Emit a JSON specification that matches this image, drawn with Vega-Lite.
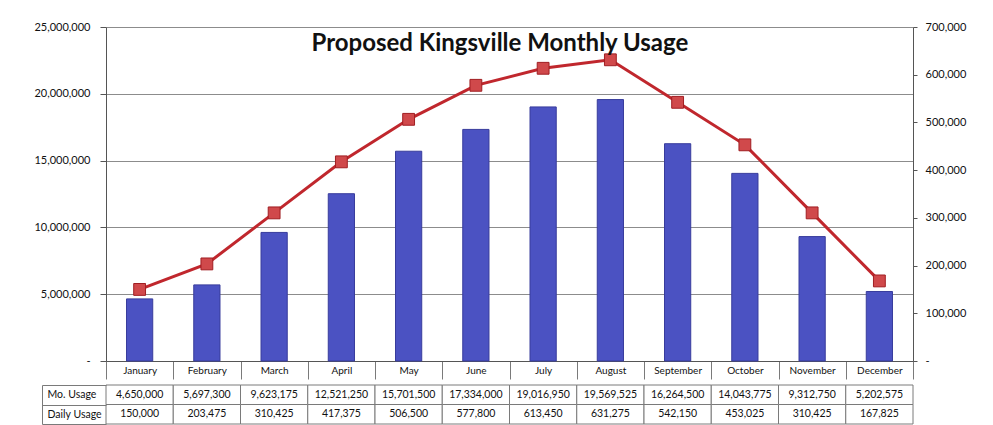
{
  "$schema": "https://vega.github.io/schema/vega-lite/v6.json",
  "padding": {"left": 33, "top": 21, "right": 5, "bottom": 5},
  "autosize": {"type": "pad"},
  "background": "white",
  "title": {"text": "Proposed Kingsville Monthly Usage", "font": "Lato", "fontSize": 24, "fontWeight": "bold", "color": "#111", "anchor": "middle", "frame": "bounds", "offset": -31, "dy": 4},
  "datasets": {
    "usage": [
      {"month": "January", "mo": 4650000, "daily": 150000},
      {"month": "February", "mo": 5697300, "daily": 203475},
      {"month": "March", "mo": 9623175, "daily": 310425},
      {"month": "April", "mo": 12521250, "daily": 417375},
      {"month": "May", "mo": 15701500, "daily": 506500},
      {"month": "June", "mo": 17334000, "daily": 577800},
      {"month": "July", "mo": 19016950, "daily": 613450},
      {"month": "August", "mo": 19569525, "daily": 631275},
      {"month": "September", "mo": 16264500, "daily": 542150},
      {"month": "October", "mo": 14043775, "daily": 453025},
      {"month": "November", "mo": 9312750, "daily": 310425},
      {"month": "December", "mo": 5202575, "daily": 167825}
    ]
  },
  "config": {
    "view": {"stroke": null},
    "font": "Lato",
    "axis": {"labelFont": "Lato", "labelColor": "#111", "domainColor": "#555", "tickColor": "#555", "labelFontSize": 11, "title": null}
  },
  "spacing": 0,
  "vconcat": [
    {
      "width": 807,
      "height": 334,
      "data": {"name": "usage"},
      "encoding": {
        "x": {
          "field": "month", "type": "ordinal",
          "sort": ["January","February","March","April","May","June","July","August","September","October","November","December"],
          "scale": {"paddingInner": 0, "paddingOuter": 0},
          "axis": {"orient": "bottom", "labelAngle": 0, "tickBand": "extent", "tickSize": 18, "tickColor": "#7a7a7a", "labelPadding": -9, "labelBaseline": "middle", "labelFontSize": 10, "grid": false}
        }
      },
      "layer": [
        {
          "mark": {"type": "bar", "width": {"band": 0.39}, "fill": "#4b52c2", "stroke": "#383c9c", "strokeWidth": 1},
          "encoding": {
            "y": {
              "field": "mo", "type": "quantitative",
              "scale": {"domain": [0, 25000000], "nice": false},
              "axis": {"orient": "left", "values": [0, 5000000, 10000000, 15000000, 20000000, 25000000], "labelExpr": "datum.value == 0 ? '-' : format(datum.value, ',')", "grid": true, "gridColor": "#8c8c8c", "tickSize": 6, "labelPadding": 10}
            }
          }
        },
        {
          "encoding": {
            "y": {
              "field": "daily", "type": "quantitative",
              "scale": {"domain": [0, 700000], "nice": false},
              "axis": {"orient": "right", "values": [0, 100000, 200000, 300000, 400000, 500000, 600000, 700000], "labelExpr": "datum.value == 0 ? '-' : format(datum.value, ',')", "grid": false, "tickSize": 4, "labelPadding": 8}
            }
          },
          "layer": [
            {"mark": {"type": "line", "color": "#c0272d", "strokeWidth": 3}},
            {"mark": {"type": "point", "shape": "square", "size": 140, "filled": true, "fill": "#d0494b", "stroke": "#a01e22", "strokeWidth": 1, "opacity": 1}}
          ]
        }
      ],
      "resolve": {"scale": {"y": "independent"}}
    },
    {
      "width": 807,
      "height": 39,
      "data": {"name": "usage"},
      "transform": [{"fold": ["mo", "daily"], "as": ["row", "value"]}],
      "encoding": {
        "x": {
          "field": "month", "type": "ordinal",
          "sort": ["January","February","March","April","May","June","July","August","September","October","November","December"],
          "scale": {"paddingInner": 0, "paddingOuter": 0},
          "axis": null
        },
        "y": {
          "field": "row", "type": "nominal", "sort": ["mo", "daily"],
          "scale": {"paddingInner": 0, "paddingOuter": 0},
          "axis": {"orient": "left", "offset": 64, "tickBand": "extent", "tickSize": -64, "tickColor": "#7a7a7a", "domainColor": "#7a7a7a", "labelAlign": "left", "labelPadding": 59, "labelFontSize": 10.5, "labelExpr": "datum.value == 'mo' ? 'Mo. Usage' : datum.value == 'daily' ? 'Daily Usage' : ''"}
        }
      },
      "layer": [
        {"mark": {"type": "rect", "fill": "white", "stroke": "#7a7a7a", "strokeWidth": 1}},
        {"mark": {"type": "text", "fontSize": 10.5, "color": "#111", "font": "Lato"}, "encoding": {"text": {"field": "value", "type": "quantitative", "format": ","}}}
      ]
    }
  ]
}
